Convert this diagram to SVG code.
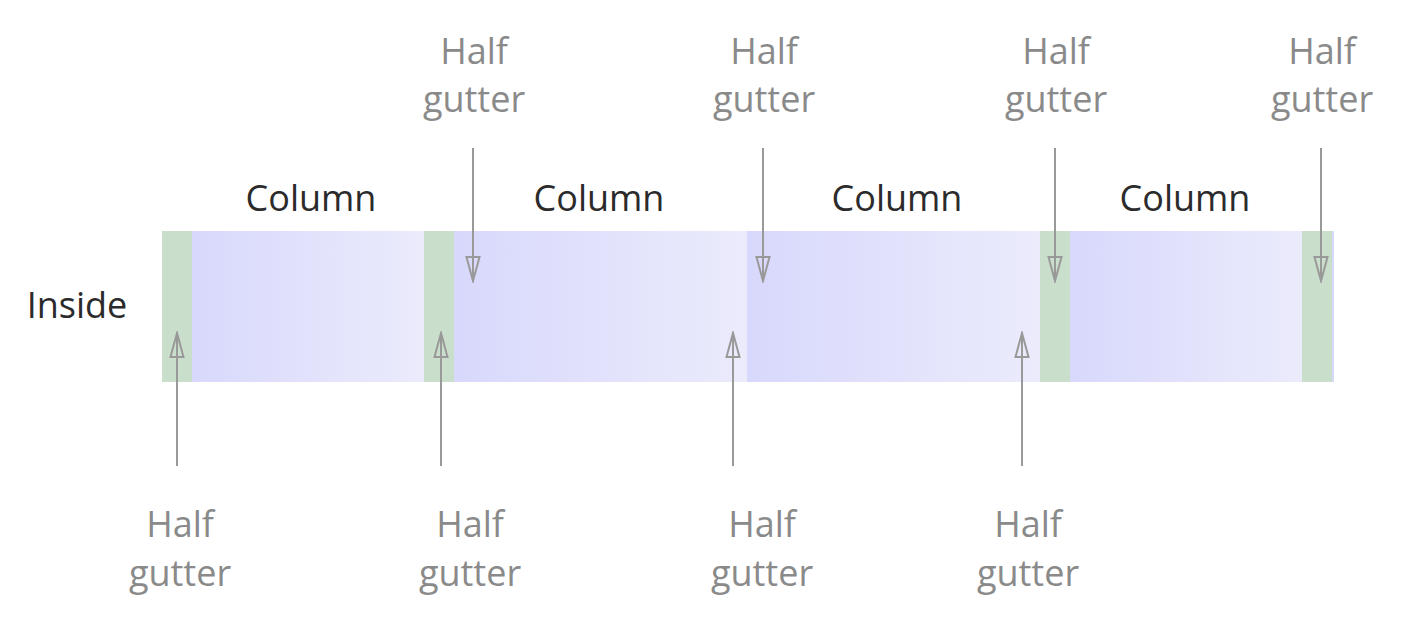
<svg xmlns="http://www.w3.org/2000/svg" width="1401" height="632" viewBox="0 0 1401 632">
<style>
.lbl{font-family:"Open Sans","Liberation Sans",sans-serif;font-size:36px;fill:#8a8a8a;text-anchor:middle}
.col{font-family:"Open Sans","Liberation Sans",sans-serif;font-size:36px;fill:#2b2b2b;text-anchor:middle}
.gut{fill:#cadecc}
.arr{stroke:#999999;stroke-width:2;fill:none;marker-end:url(#ah)}
</style>
<defs>
<linearGradient id="cg" x1="0" y1="0" x2="1" y2="0">
<stop offset="0" stop-color="#d8d8fc"/>
<stop offset="1" stop-color="#ebebfc"/>
</linearGradient>
<marker id="ah" markerUnits="userSpaceOnUse" markerWidth="28" markerHeight="16" viewBox="0 0 28 16" refX="26" refY="8" orient="auto">
<path d="M26,8 L2,1.5 L2,14.5 Z" fill="none" stroke="#999999" stroke-width="2"/>
</marker>
</defs>
<rect width="1401" height="632" fill="#ffffff"/>
<g id="band">
<rect x="1330" y="231" width="4" height="151" fill="#d8d8fc"/>
<rect class="gut" x="162" y="231" width="30" height="151"/>
<rect x="192" y="231" width="232" height="151" fill="url(#cg)"/>
<rect class="gut" x="424" y="231" width="30" height="151"/>
<rect x="454" y="231" width="293" height="151" fill="url(#cg)"/>
<rect x="747" y="231" width="293" height="151" fill="url(#cg)"/>
<rect class="gut" x="1040" y="231" width="30" height="151"/>
<rect x="1070" y="231" width="232" height="151" fill="url(#cg)"/>
<rect class="gut" x="1302" y="231" width="30" height="151"/>
</g>
<g id="inside"><text class="col" x="77" y="318">Inside</text></g>
<g id="columns">
<text class="col" x="311" y="211">Column</text>
<text class="col" x="599" y="211">Column</text>
<text class="col" x="897" y="211">Column</text>
<text class="col" x="1185" y="211">Column</text>
</g>
<g id="top-labels">
<text class="lbl" x="474" y="64">Half</text><text class="lbl" x="474" y="112">gutter</text>
<text class="lbl" x="764" y="64">Half</text><text class="lbl" x="764" y="112">gutter</text>
<text class="lbl" x="1056" y="64">Half</text><text class="lbl" x="1056" y="112">gutter</text>
<text class="lbl" x="1322" y="64">Half</text><text class="lbl" x="1322" y="112">gutter</text>
</g>
<g id="bottom-labels">
<text class="lbl" x="180" y="537">Half</text><text class="lbl" x="180" y="586">gutter</text>
<text class="lbl" x="470" y="537">Half</text><text class="lbl" x="470" y="586">gutter</text>
<text class="lbl" x="762" y="537">Half</text><text class="lbl" x="762" y="586">gutter</text>
<text class="lbl" x="1028" y="537">Half</text><text class="lbl" x="1028" y="586">gutter</text>
</g>
<g id="connectors">
<line class="arr" x1="473" y1="148" x2="473" y2="281"/>
<line class="arr" x1="763" y1="148" x2="763" y2="281"/>
<line class="arr" x1="1055" y1="148" x2="1055" y2="281"/>
<line class="arr" x1="1321" y1="148" x2="1321" y2="281"/>
<line class="arr" x1="177" y1="466" x2="177" y2="333"/>
<line class="arr" x1="441" y1="466" x2="441" y2="333"/>
<line class="arr" x1="733" y1="466" x2="733" y2="333"/>
<line class="arr" x1="1022" y1="466" x2="1022" y2="333"/>
</g>
</svg>
